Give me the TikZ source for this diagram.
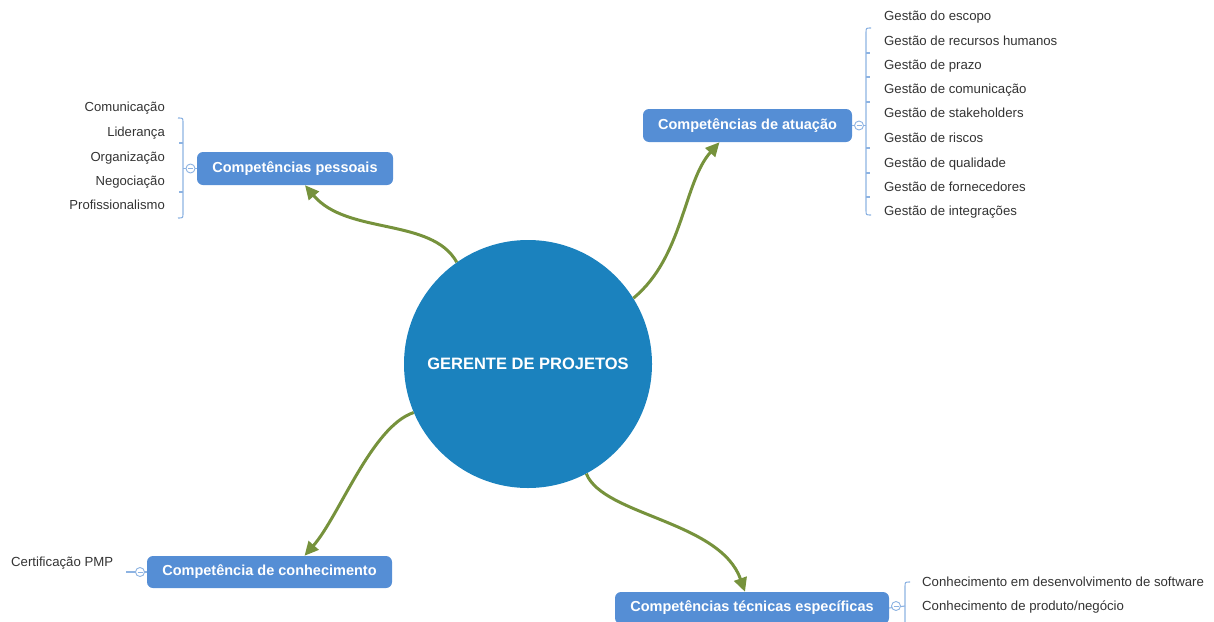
\documentclass[tikz,border=0pt]{standalone}
\usepackage{fontspec}
\setmainfont{Liberation Sans}
\usetikzlibrary{arrows.meta}
\definecolor{boxblue}{HTML}{558ED5}
\definecolor{hubblue}{HTML}{1B82BE}
\definecolor{arrowgreen}{HTML}{76923C}
\definecolor{brk}{HTML}{8DB3E2}
\definecolor{leaftext}{HTML}{333333}
\begin{document}
\begin{tikzpicture}[x=1pt,y=-1pt,
  topic/.style={fill=boxblue, rounded corners=6pt, text=white,
    font=\bfseries\fontsize{14.5}{17}\selectfont, inner sep=0pt, minimum height=33pt},
  leafL/.style={anchor=base east, text=leaftext, font=\fontsize{13.1}{16}\selectfont, inner sep=0pt},
  leafR/.style={anchor=base west, text=leaftext, font=\fontsize{13.2}{16}\selectfont, inner sep=0pt},
  link/.style={draw=arrowgreen, line width=3pt, -{Triangle[length=14pt,width=13pt]}},
  brace/.style={draw=brk, line width=1.1pt},
  toggle/.style={circle, draw=brk, fill=white, line width=0.9pt, minimum size=9pt, inner sep=0pt,
    path picture={\draw[brk, line width=0.9pt] ([xshift=-2.5pt]path picture bounding box.center) -- ([xshift=2.5pt]path picture bounding box.center);}}
]
\useasboundingbox (0,0) rectangle (1214,621);

% hub
\node[circle, fill=hubblue, minimum size=248pt, inner sep=0pt, text=white,
  font=\bfseries\fontsize{16.5}{20}\selectfont] (hub) at (528,364) {GERENTE DE PROJETOS};

% topics
\node[topic, minimum width=196pt] (pess) at (295,168.5) {Competências pessoais};
\node[topic, minimum width=209pt] (atua) at (747.5,125.5) {Competências de atuação};
\node[topic, minimum width=245pt, minimum height=32pt] (conh) at (269.5,572) {Competência de conhecimento};
\node[topic, minimum width=274pt, minimum height=32pt] (tec) at (752,608) {Competências técnicas específicas};

% connectors
\draw[link] (hub.125) .. controls +(-25,-45) and +(42,50) .. ([xshift=10pt]pess.south);
\draw[link] (hub.32) .. controls +(50,-41) and +(-36,40) .. ([xshift=-28pt]atua.south);
\draw[link] (hub.203) .. controls +(-42,14) and +(35,-40) .. ([xshift=35pt]conh.north);
\draw[link] (hub.298) .. controls +(17,42) and +(-25,-71) .. ([xshift=-7pt]tec.north);

% pessoais leaves
\node[leafL] (p1) at (165,111.5) {Comunicação};
\node[leafL] (p2) at (165,136.5) {Liderança};
\node[leafL] (p3) at (165,161.5) {Organização};
\node[leafL] (p4) at (165,185.5) {Negociação};
\node[leafL] (p5) at (165,209.5) {Profissionalismo};
\draw[brace] (178,118) .. controls (183,118) .. (183,123) -- (183,213) .. controls (183,218) .. (178,218);
\draw[brace] (183,143) -- (179,143) (183,192) -- (179,192);
\draw[brace] (183,168.5) -- (pess.west);
\node[toggle] (tp) at (190.5,168.5) {};

% atuacao leaves
\node[leafR] (a1) at (884,20.5) {Gestão do escopo};
\node[leafR] (a2) at (884,45.5) {Gestão de recursos humanos};
\node[leafR] (a3) at (884,69.5) {Gestão de prazo};
\node[leafR] (a4) at (884,93.5) {Gestão de comunicação};
\node[leafR] (a5) at (884,117.5) {Gestão de stakeholders};
\node[leafR] (a6) at (884,142.5) {Gestão de riscos};
\node[leafR] (a7) at (884,167.5) {Gestão de qualidade};
\node[leafR] (a8) at (884,191.5) {Gestão de fornecedores};
\node[leafR] (a9) at (884,215.5) {Gestão de integrações};
\draw[brace] (871,28) .. controls (866,28) .. (866,33) -- (866,210) .. controls (866,215) .. (871,215);
\foreach \yy in {53,77,102,148,173,197} \draw[brace] (866,\yy) -- (870,\yy);
\draw[brace] (atua.east) -- (866,125.5);
\node[toggle] (ta) at (859,125.5) {};

% tecnicas leaves
\node[leafR] (t1) at (922,586.5) {Conhecimento em desenvolvimento de software};
\node[leafR] (t2) at (922,610.5) {Conhecimento de produto/negócio};
\draw[brace] (910,582) .. controls (905,582) .. (905,587) -- (905,625);
\draw[brace] (tec.east) -- (905,606);
\node[toggle] (tt) at (896,606) {};

% conhecimento leaf
\node[leafR] (c1) at (11,566.5) {Certificação PMP};
\coordinate (cend) at (126,572);
\draw[brace] (cend) -- (conh.west);
\node[toggle] (tc) at (140,572) {};
\end{tikzpicture}
\end{document}
